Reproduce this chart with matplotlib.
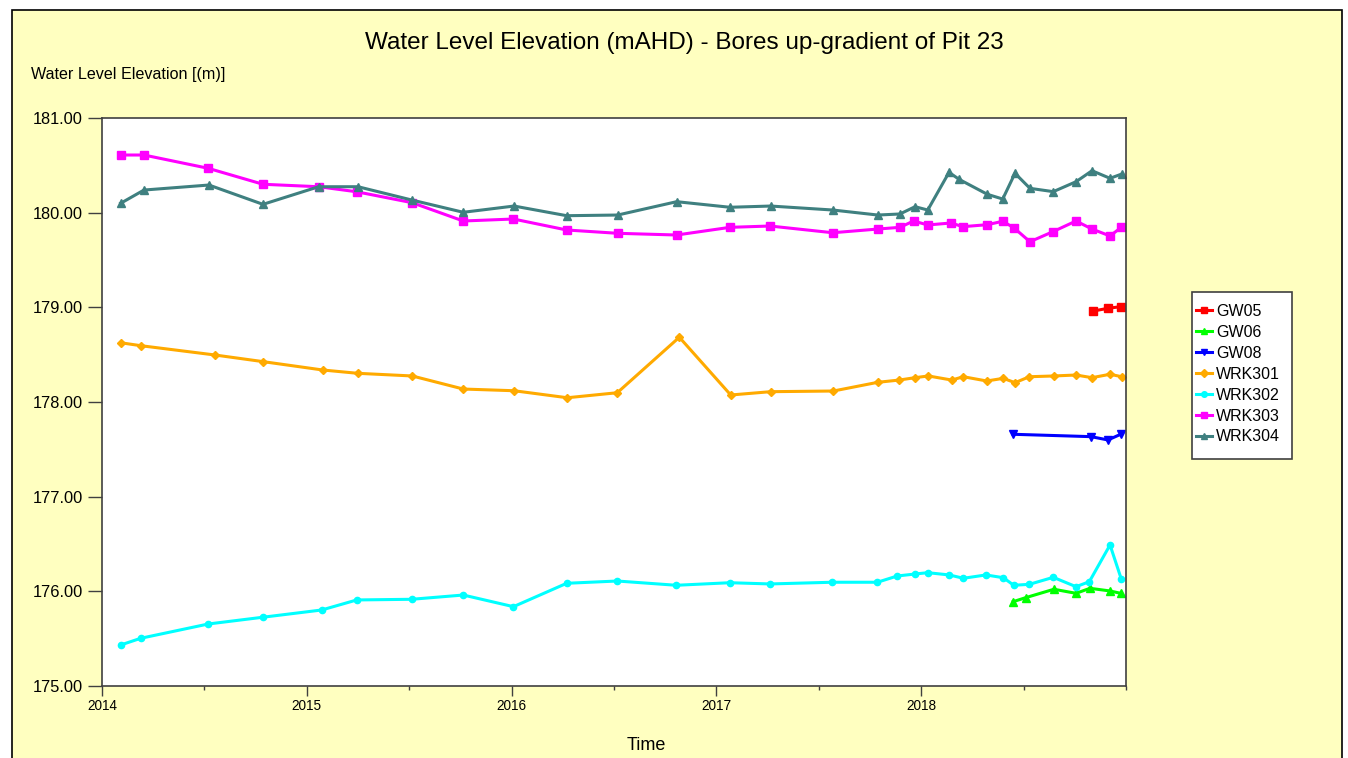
#!/usr/bin/env python3

import matplotlib
matplotlib.use('Agg')
import matplotlib.pyplot as plt
from matplotlib.patches import Rectangle
from matplotlib.ticker import MultipleLocator, FormatStrFormatter
import numpy as np

plt.rcParams['font.family'] = ['Liberation Sans', 'DejaVu Sans']

# sample times in decimal years, levels in mAHD
gw05_t = [2018.840, 2018.913, 2018.974]
gw05_z = [178.961, 178.990, 179.007]

gw06_t = [2018.449, 2018.510, 2018.648, 2018.756, 2018.824, 2018.922, 2018.974]
gw06_z = [175.891, 175.933, 176.022, 175.979, 176.032, 176.004, 175.979]

gw08_t = [2018.449, 2018.829, 2018.912, 2018.974]
gw08_z = [177.659, 177.634, 177.599, 177.659]

wrk301_t = [2014.091, 2014.189, 2014.550, 2014.788, 2015.078, 2015.249, 2015.515,
            2015.764, 2016.012, 2016.272, 2016.516, 2016.819, 2017.070, 2017.265,
            2017.571, 2017.788, 2017.893, 2017.970, 2018.035, 2018.149, 2018.206,
            2018.320, 2018.401, 2018.458, 2018.528, 2018.648, 2018.756, 2018.834,
            2018.922, 2018.979]
wrk301_z = [178.626, 178.595, 178.497, 178.426, 178.338, 178.303, 178.275,
            178.137, 178.119, 178.045, 178.098, 178.684, 178.074, 178.109,
            178.116, 178.208, 178.232, 178.257, 178.275, 178.232, 178.267,
            178.222, 178.250, 178.204, 178.267, 178.275, 178.285, 178.257,
            178.293, 178.267]

wrk302_t = [2014.091, 2014.189, 2014.519, 2014.784, 2015.073, 2015.244, 2015.512,
            2015.764, 2016.009, 2016.269, 2016.516, 2016.804, 2017.066, 2017.262,
            2017.566, 2017.786, 2017.883, 2017.970, 2018.032, 2018.137, 2018.206,
            2018.316, 2018.401, 2018.452, 2018.528, 2018.645, 2018.756, 2018.821,
            2018.922, 2018.977]
wrk302_z = [175.433, 175.504, 175.655, 175.726, 175.803, 175.909, 175.916,
            175.961, 175.838, 176.085, 176.109, 176.064, 176.091, 176.078,
            176.096, 176.096, 176.162, 176.183, 176.197, 176.173, 176.138,
            176.173, 176.144, 176.064, 176.074, 176.148, 176.049, 176.102,
            176.490, 176.130]

wrk303_t = [2014.091, 2014.205, 2014.518, 2014.786, 2015.058, 2015.243, 2015.515,
            2015.764, 2016.009, 2016.269, 2016.518, 2016.806, 2017.066, 2017.262,
            2017.568, 2017.788, 2017.896, 2017.963, 2018.032, 2018.146, 2018.203,
            2018.323, 2018.398, 2018.452, 2018.531, 2018.643, 2018.756, 2018.834,
            2018.922, 2018.977]
wrk303_z = [180.609, 180.609, 180.469, 180.300, 180.274, 180.221, 180.105,
            179.912, 179.933, 179.817, 179.782, 179.764, 179.845, 179.859,
            179.788, 179.827, 179.845, 179.912, 179.870, 179.891, 179.852,
            179.873, 179.909, 179.841, 179.693, 179.799, 179.912, 179.827,
            179.754, 179.845]

wrk304_t = [2014.091, 2014.205, 2014.522, 2014.786, 2015.058, 2015.250, 2015.512,
            2015.764, 2016.012, 2016.269, 2016.518, 2016.806, 2017.066, 2017.265,
            2017.568, 2017.788, 2017.896, 2017.970, 2018.032, 2018.136, 2018.185,
            2018.323, 2018.398, 2018.458, 2018.531, 2018.645, 2018.756, 2018.834,
            2018.922, 2018.979]
wrk304_z = [180.099, 180.239, 180.292, 180.088, 180.274, 180.274, 180.134,
            180.004, 180.070, 179.968, 179.975, 180.116, 180.057, 180.070,
            180.028, 179.975, 179.986, 180.063, 180.028, 180.426, 180.352,
            180.194, 180.144, 180.416, 180.257, 180.222, 180.327, 180.443,
            180.363, 180.408]

bores = ['GW05', 'GW06', 'GW08', 'WRK301', 'WRK302', 'WRK303', 'WRK304']
colours = ['#ff0000', '#00ff00', '#0000ff', '#ffaa00', '#00ffff', '#ff00ff', '#3f8080']
markers = ['s', '^', 'v', 'D', 'o', 's', '^']
year_ticks = [2014, 2015, 2016, 2017, 2018]

W, H = 1348, 758

#_____________________________________________________________________________
def main():

    series = [(gw05_t, gw05_z), (gw06_t, gw06_z), (gw08_t, gw08_z),
              (wrk301_t, wrk301_z), (wrk302_t, wrk302_z),
              (wrk303_t, wrk303_z), (wrk304_t, wrk304_z)]

    fig = plt.figure(figsize=(W/100, H/100), dpi=100)
    fig.patch.set_facecolor('white')

    # yellow panel with black frame
    fig.patches.append(Rectangle((12/W, -0.01), (1342-12)/W, 1 - 10/H + 0.01,
                                 transform=fig.transFigure, facecolor='#ffffc0',
                                 edgecolor='black', linewidth=1.2, zorder=-5))
    # legend box, drawn by hand so the padding can differ per side
    fig.patches.append(Rectangle((1192/W, 1 - 459/H), 100/W, 167/H,
                                 transform=fig.transFigure, facecolor='white',
                                 edgecolor='#404040', linewidth=1.2, zorder=-4))

    ax = fig.add_axes([102/W, 1 - 686/H, (1126-102)/W, (686-118)/H])
    ax.set_zorder(2)
    ax.set_facecolor('white')

    for name, (t, z), c, m in zip(bores, series, colours, markers):
        ms = 5.5 if m in ('s', '^', 'v') else 4.5
        ax.plot(t, z, color=c, lw=2.2, marker=m, ms=ms, mec=c, mfc=c, label=name)

    ax.set_xlim(2014, 2019)
    ax.set_ylim(175, 181)
    ax.set_xticks(year_ticks)
    ax.xaxis.set_minor_locator(MultipleLocator(0.5))
    ax.xaxis.set_major_formatter(FormatStrFormatter('%d'))
    ax.yaxis.set_major_locator(MultipleLocator(1))
    ax.yaxis.set_major_formatter(FormatStrFormatter('%.2f'))
    ax.tick_params(axis='y', length=10, width=1, color='#404040', labelsize=11.8, pad=4)
    ax.tick_params(axis='x', which='major', length=7, width=1, color='#404040',
                   labelsize=9.8, pad=2)
    ax.tick_params(axis='x', which='minor', length=3, width=1, color='#404040')

    for s in ax.spines.values():
        s.set_color('#404040')
        s.set_linewidth(1.2)

    fig.text(684/W, 1 - 43/H, 'Water Level Elevation (mAHD) - Bores up-gradient of Pit 23',
             ha='center', va='center', fontsize=17.5)
    fig.text(31/W, 1 - 75/H, 'Water Level Elevation [(m)]', ha='left', va='center',
             fontsize=11.6)
    fig.text(646/W, 1 - 746/H, 'Time', ha='center', va='center', fontsize=13)

    leg = fig.legend(loc='upper left', bbox_to_anchor=(1196/W, 1 - 304/H),
                     fontsize=11.5, frameon=False, handlelength=1.0,
                     handletextpad=0.25, labelspacing=0.37, borderpad=0,
                     borderaxespad=0, markerscale=0.9)
    leg.set_zorder(3)

    fig.savefig('out.png', dpi=100, facecolor=fig.get_facecolor())

#_____________________________________________________________________________
if __name__ == "__main__":
    main()
